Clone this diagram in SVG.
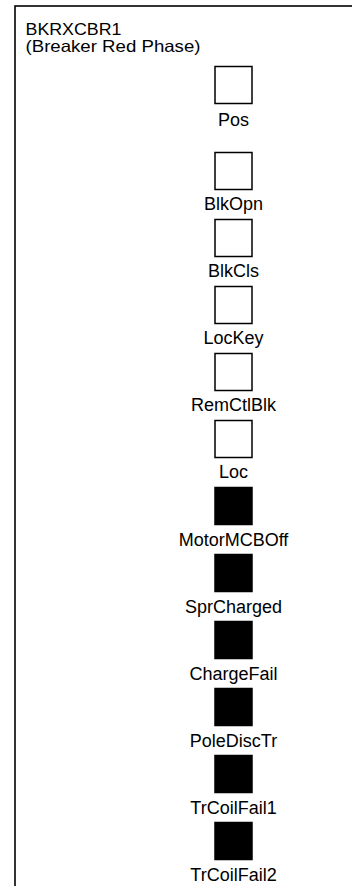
<svg xmlns="http://www.w3.org/2000/svg" width="352" height="886" viewBox="0 0 352 886">
<style>
.frame{fill:none;stroke:#000;stroke-width:1.6}
.t{font-family:"Liberation Sans",Arial,sans-serif;font-size:18px;fill:#000}
.h{font-size:16.5px}
.c{text-anchor:middle}
.off{fill:#fff;stroke:#000;stroke-width:1.5}
.on{fill:#000;stroke:#000;stroke-width:1.5}
</style>
<rect class="frame" x="15" y="6" width="400" height="1000"/>
<g id="title">
<text class="t h" x="25.5" y="35" textLength="96" lengthAdjust="spacingAndGlyphs">BKRXCBR1</text>
<text class="t h" x="25.5" y="52" textLength="175" lengthAdjust="spacingAndGlyphs">(Breaker Red Phase)</text>
</g>
<g id="connectors"/>
<g id="Pos"><rect class="off" x="215" y="66.5" width="37" height="37"/><text class="t c" x="233.5" y="126">Pos</text></g>
<g id="BlkOpn"><rect class="off" x="215" y="152.5" width="37" height="37"/><text class="t c" x="233.5" y="210">BlkOpn</text></g>
<g id="BlkCls"><rect class="off" x="215" y="219.5" width="37" height="37"/><text class="t c" x="233.5" y="277">BlkCls</text></g>
<g id="LocKey"><rect class="off" x="215" y="286.5" width="37" height="37"/><text class="t c" x="233.5" y="344">LocKey</text></g>
<g id="RemCtlBlk"><rect class="off" x="215" y="353.5" width="37" height="37"/><text class="t c" x="233.5" y="411">RemCtlBlk</text></g>
<g id="Loc"><rect class="off" x="215" y="420.5" width="37" height="37"/><text class="t c" x="233.5" y="478">Loc</text></g>
<g id="MotorMCBOff"><rect class="on" x="215" y="487.5" width="37" height="37"/><text class="t c" x="233.5" y="546">MotorMCBOff</text></g>
<g id="SprCharged"><rect class="on" x="215" y="554.5" width="37" height="37"/><text class="t c" x="233.5" y="613">SprCharged</text></g>
<g id="ChargeFail"><rect class="on" x="215" y="621.5" width="37" height="37"/><text class="t c" x="233.5" y="680">ChargeFail</text></g>
<g id="PoleDiscTr"><rect class="on" x="215" y="688.5" width="37" height="37"/><text class="t c" x="233.5" y="747">PoleDiscTr</text></g>
<g id="TrCoilFail1"><rect class="on" x="215" y="755.5" width="37" height="37"/><text class="t c" x="233.5" y="814">TrCoilFail1</text></g>
<g id="TrCoilFail2"><rect class="on" x="215" y="822.5" width="37" height="37"/><text class="t c" x="233.5" y="881">TrCoilFail2</text></g>
</svg>
